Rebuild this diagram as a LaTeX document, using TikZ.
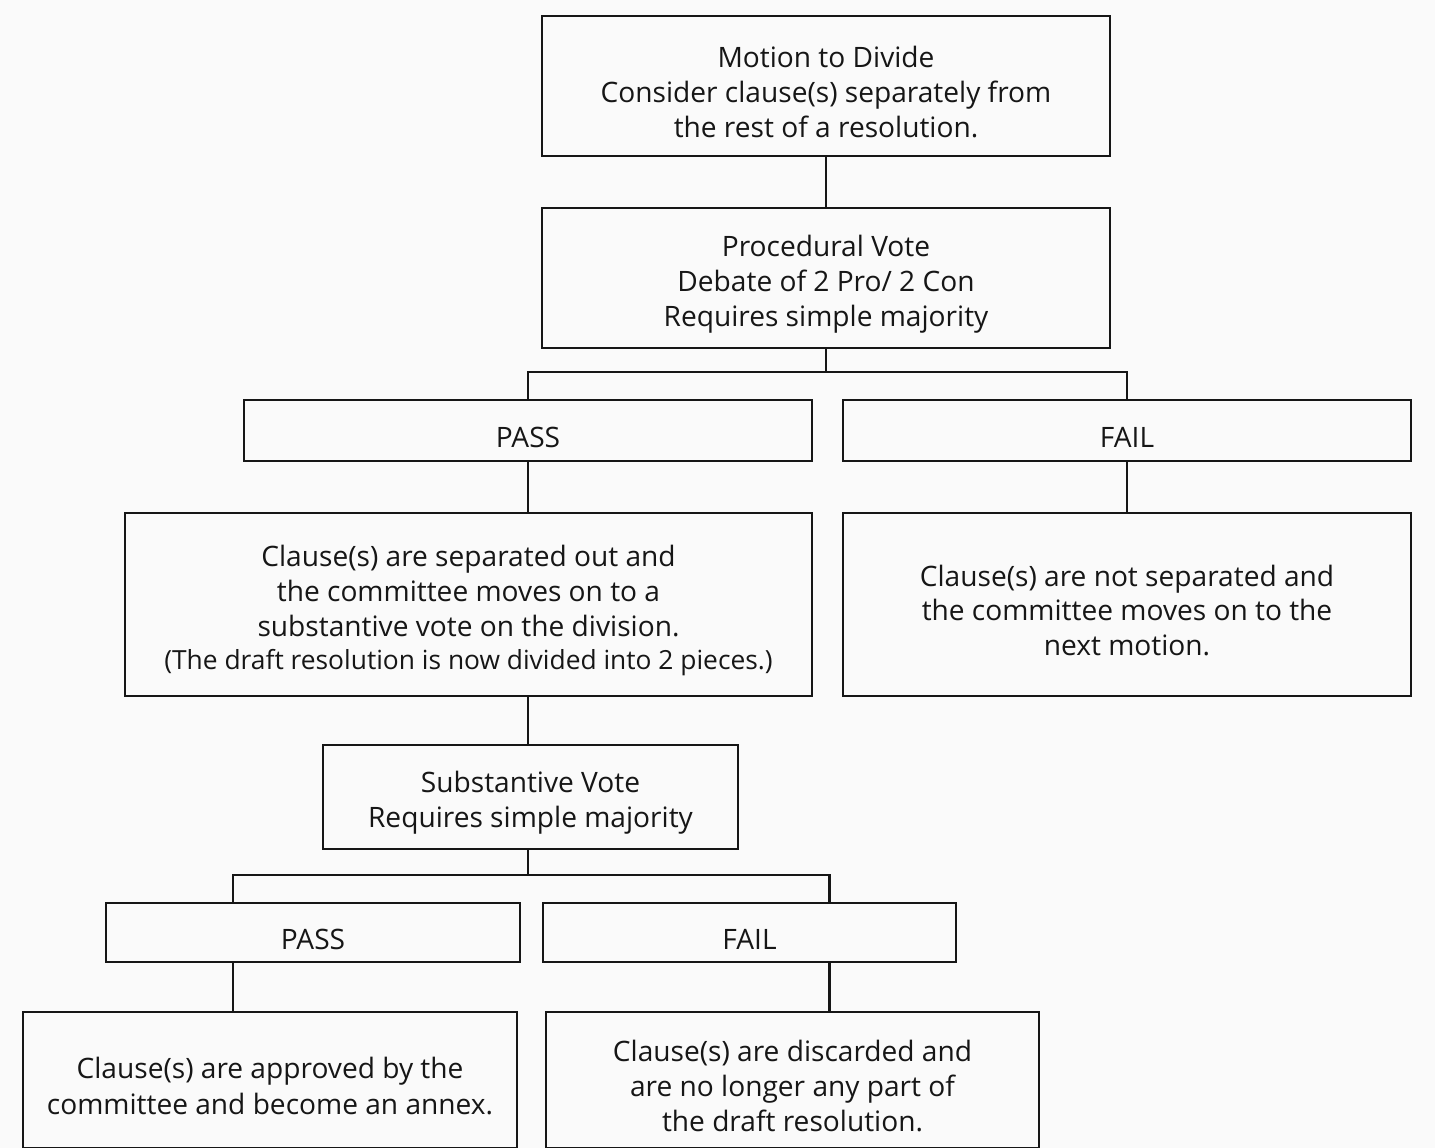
\documentclass[tikz,border=0pt]{standalone}
\usepackage{fontspec}
\setmainfont{Open Sans}
\usetikzlibrary{positioning,calc}
\definecolor{paper}{RGB}{250,250,250}
\definecolor{ink}{RGB}{22,22,22}
\newcommand{\toprow}{\rule{0pt}{19pt}}
\tikzset{
  box/.style={draw=ink, line width=1.1pt, align=center, inner sep=0pt, text=ink,
              font=\fontsize{16}{19.9}\selectfont},
  wire/.style={draw=ink, line width=1.15pt},
}

\begin{document}
\begin{tikzpicture}[x=0.02cm, y=-0.02cm]
  \fill[paper] (0,0) rectangle (1435,1148);
  \useasboundingbox (0,0) rectangle (1435,1148);

  % first vote
  \node[box, minimum width=11.36cm, minimum height=2.8cm] (motion) at (826,86)
    {\toprow Motion to Divide\\Consider clause(s) separately from\\the rest of a resolution.};
  \node[box, minimum width=11.36cm, minimum height=2.8cm] (proc) at (826,278)
    {\toprow Procedural Vote\\Debate of 2 Pro/ 2 Con\\Requires simple majority};
  \node[box, minimum width=11.36cm, minimum height=1.22cm] (pass) at (528,430.5) {\toprow PASS};
  \node[box, minimum width=11.36cm, minimum height=1.22cm] (fail) at (1127,430.5) {\toprow FAIL};
  \node[box, minimum width=13.74cm, minimum height=3.66cm] (split) at (468.5,604.5)
    {\toprow Clause(s) are separated out and\\the committee moves on to a\\substantive vote on the division.\\[-1pt]
     {\fontsize{15}{18.5}\selectfont (The draft resolution is now divided into 2 pieces.)}};
  \node[box, minimum width=11.36cm, minimum height=3.66cm] (nosplit) at (1127,604.5)
    {\toprow Clause(s) are not separated and\\the committee moves on to the\\next motion.};

  % second vote
  \node[box, minimum width=8.3cm, minimum height=2.08cm] (subst) at (530.5,797)
    {\toprow Substantive Vote\\Requires simple majority};
  \node[box, minimum width=8.28cm, minimum height=1.18cm] (pass2) at (313,932.5) {\toprow PASS};
  \node[box, minimum width=8.26cm, minimum height=1.18cm] (fail2) at (749.5,932.5) {\toprow FAIL};
  \node[box, minimum width=9.88cm, minimum height=2.72cm] (annex) at (270,1080)
    {\toprow Clause(s) are approved by the\\[1pt]committee and become an annex.};
  \node[box, minimum width=9.86cm, minimum height=2.72cm] (drop) at (792.5,1080)
    {\toprow Clause(s) are discarded and\\are no longer any part of\\the draft resolution.};

  \coordinate (p2) at ([xshift=-1.6cm]pass2.south);
  \coordinate (f2) at ([xshift=1.6cm]fail2.south);

  \draw[wire] (motion) -- (proc);
  \draw[wire] (proc.south) -- ++(0,23) -| (pass.north);
  \draw[wire] (proc.south) -- ++(0,23) -| (fail.north);
  \draw[wire] (pass.south) -- (pass.south |- split.north);
  \draw[wire] (fail) -- (nosplit);
  \draw[wire] (pass.south |- split.south) -- (pass.south |- subst.north);
  \draw[wire] (pass.south |- subst.south) -- ++(0,25) -| ([xshift=-1.6cm]pass2.north);
  \draw[wire] (pass.south |- subst.south) -- ++(0,25) -| ([xshift=1.6cm]fail2.north);
  \draw[wire] (p2) -- (p2 |- annex.north);
  \draw[wire] (f2) -- (f2 |- drop.north);
\end{tikzpicture}
\end{document}
